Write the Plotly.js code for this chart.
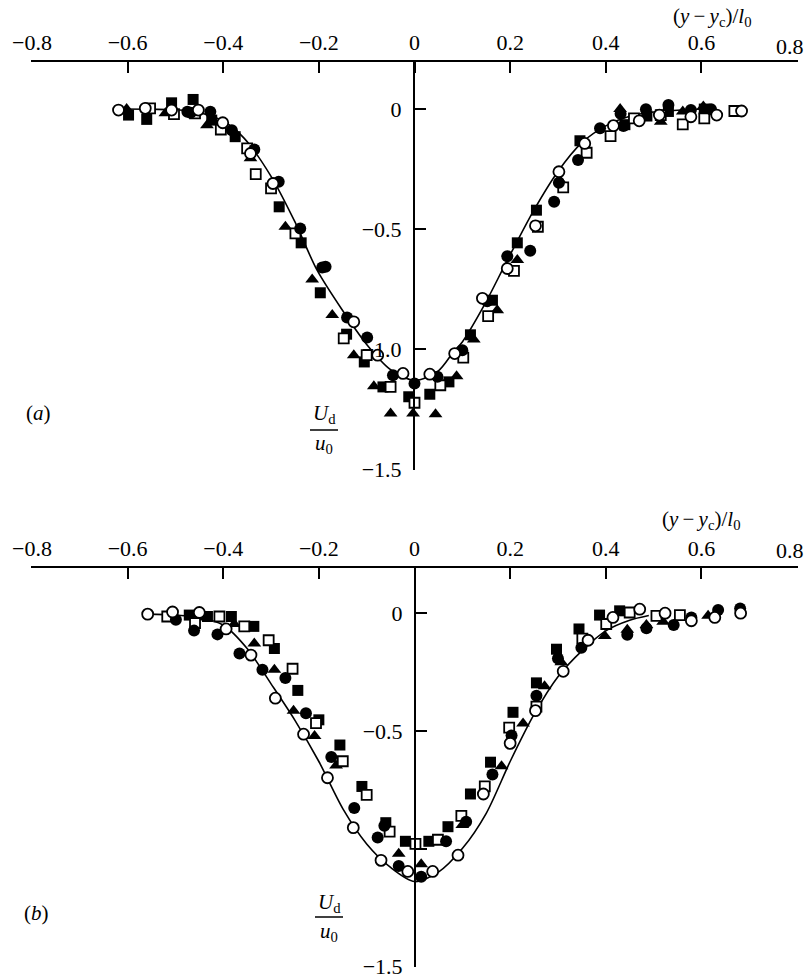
<!DOCTYPE html>
<html>
<head>
<meta charset="utf-8">
<script src="https://cdn.plot.ly/plotly-3.0.1.min.js"></script>
<style>
  html, body { margin: 0; padding: 0; background: #fff; }
  #chart { width: 808px; height: 980px; }
</style>
</head>
<body>
<div id="chart"></div>
<script>
//----------------------------------DATA (a)----------------------------------//

const aCurveX = [-0.62, -0.55, -0.5, -0.45, -0.4, -0.357, -0.3, -0.25, -0.204, -0.15, -0.1, -0.05, 0,
  0.05, 0.082, 0.1, 0.145, 0.194, 0.25, 0.3, 0.35, 0.4, 0.45, 0.5, 0.55, 0.6, 0.63];
const aCurveY = [0.0, -0.001, -0.003, -0.015, -0.05, -0.12, -0.28, -0.47, -0.67, -0.84, -0.98, -1.085, -1.13,
  -1.09, -1.01, -0.97, -0.82, -0.63, -0.42, -0.26, -0.14, -0.07, -0.03, -0.012, -0.005, 0.0, 0.0];

const aFilledCircleX = [-0.475, -0.468, -0.427, -0.382, -0.335, -0.284, -0.239, -0.193, -0.186, -0.141, -0.099,
  -0.045, 0.0, 0.048, 0.1, 0.152, 0.194, 0.242, 0.292, 0.302, 0.342, 0.388, 0.437, 0.431, 0.484, 0.531, 0.578, 0.62];
const aFilledCircleY = [-0.011, -0.015, -0.011, -0.088, -0.168, -0.303, -0.497, -0.66, -0.657, -0.868, -0.951,
  -1.108, -1.143, -1.115, -1.004, -0.80, -0.6125, -0.59, -0.386, -0.307, -0.2125, -0.08, -0.071, -0.02, -0.001, 0.017, -0.004, -0.001];

const aOpenCircleX = [-0.619, -0.563, -0.508, -0.452, -0.401, -0.343, -0.296, -0.127, -0.077, -0.024, 0.032,
  0.084, 0.142, 0.194, 0.253, 0.302, 0.356, 0.416, 0.47, 0.512, 0.578, 0.632, 0.684];
const aOpenCircleY = [-0.004, 0.003, -0.004, -0.004, -0.057, -0.185, -0.31, -0.886, -1.025, -1.101, -1.104,
  -1.018, -0.788, -0.664, -0.486, -0.261, -0.143, -0.069, -0.049, -0.025, -0.032, -0.025, -0.008];

const aFilledSquareX = [-0.598, -0.56, -0.508, -0.463, -0.424, -0.375, -0.283, -0.237, -0.197, -0.142, -0.105,
  -0.066, -0.012, 0.032, 0.072, 0.117, 0.163, 0.215, 0.255, 0.346, 0.44, 0.486, 0.531, 0.606];
const aFilledSquareY = [-0.025, -0.043, 0.026, 0.04, -0.046, -0.115, -0.407, -0.557, -0.765, -0.9375, -1.053,
  -1.157, -1.198, -1.1875, -1.136, -0.94, -0.796, -0.557, -0.421, -0.132, -0.065, -0.029, -0.01, 0.0];

const aOpenSquareX = [-0.553, -0.503, -0.459, -0.405, -0.35, -0.332, -0.3, -0.249, -0.148, -0.1, -0.05, 0.0,
  0.054, 0.102, 0.154, 0.208, 0.258, 0.311, 0.36, 0.41, 0.459, 0.515, 0.561, 0.606, 0.669];
const aOpenSquareY = [0.003, -0.021, -0.018, -0.085, -0.164, -0.271, -0.33, -0.518, -0.955, -1.025, -1.157, -1.223,
  -1.15, -1.035, -0.8625, -0.674, -0.49, -0.326, -0.182, -0.1125, -0.039, -0.025, -0.064, -0.039, -0.008];

const aTriangleX = [-0.602, -0.521, -0.434, -0.343, -0.27, -0.214, -0.172, -0.127, -0.085, -0.05, -0.003, 0.044,
  0.088, 0.124, 0.173, 0.215, 0.306, 0.43, 0.515, 0.561, 0.604];
const aTriangleY = [0.0, -0.017, -0.067, -0.205, -0.49, -0.71, -0.858, -1.025, -1.154, -1.268, -1.268, -1.271,
  -1.1125, -0.96, -0.8375, -0.629, -0.303, 0.0, -0.053, -0.01, 0.011];

//----------------------------------DATA (b)----------------------------------//

const bCurveX = [-0.56, -0.5, -0.45, -0.4, -0.35, -0.3, -0.25, -0.2, -0.15, -0.1, -0.05, 0,
  0.05, 0.1, 0.15, 0.2, 0.25, 0.3, 0.35, 0.4, 0.45, 0.49];
const bCurveY = [-0.004, -0.008, -0.018, -0.05, -0.15, -0.3, -0.455, -0.63, -0.83, -0.98, -1.08, -1.14,
  -1.1, -1.0, -0.85, -0.63, -0.43, -0.27, -0.16, -0.075, -0.03, -0.01];

const bFilledCircleX = [-0.499, -0.461, -0.412, -0.366, -0.318, -0.27, -0.227, -0.174, -0.126, -0.063, -0.077,
  -0.033, 0.014, 0.066, 0.108, 0.163, 0.203, 0.255, 0.3, 0.349, 0.445, 0.485, 0.542, 0.579, 0.635, 0.681];
const bFilledCircleY = [-0.028, -0.074, -0.09, -0.171, -0.24, -0.275, -0.425, -0.611, -0.828, -0.903, -0.953,
  -1.074, -1.12, -0.969, -0.886, -0.685, -0.52, -0.351, -0.192, -0.147, -0.092, -0.064, -0.05, -0.018, 0.014, 0.02];

const bOpenCircleX = [-0.558, -0.506, -0.45, -0.394, -0.342, -0.291, -0.232, -0.182, -0.128, -0.07, -0.014,
  0.038, 0.091, 0.144, 0.2, 0.253, 0.311, 0.363, 0.415, 0.471, 0.524, 0.579, 0.628, 0.682];
const bOpenCircleY = [-0.004, 0.005, 0.003, -0.067, -0.178, -0.361, -0.514, -0.699, -0.911, -1.05, -1.097,
  -1.097, -1.028, -0.768, -0.553, -0.414, -0.247, -0.115, -0.018, 0.017, 0.0, -0.032, -0.018, 0.0];

const bFilledSquareX = [-0.471, -0.433, -0.383, -0.336, -0.293, -0.244, -0.2, -0.156, -0.11, -0.06, -0.019,
  0.03, 0.07, 0.117, 0.159, 0.206, 0.255, 0.297, 0.344, 0.387, 0.429];
const bFilledSquareY = [-0.008, -0.014, -0.014, -0.056, -0.15, -0.328, -0.453, -0.56, -0.736, -0.89, -0.969,
  -0.969, -0.907, -0.768, -0.633, -0.421, -0.296, -0.153, -0.067, -0.008, 0.01];

const bOpenSquareX = [-0.517, -0.459, -0.408, -0.356, -0.305, -0.255, -0.206, -0.15, -0.1, -0.052, 0.002,
  0.049, 0.098, 0.147, 0.198, 0.255, 0.351, 0.401, 0.45, 0.506, 0.555];
const bOpenSquareY = [-0.014, -0.042, -0.014, -0.056, -0.115, -0.236, -0.467, -0.629, -0.772, -0.928, -0.98,
  -0.9625, -0.861, -0.736, -0.486, -0.397, -0.108, -0.046, 0.003, -0.011, -0.008];

const bTriangleX = [-0.436, -0.377, -0.335, -0.293, -0.253, -0.209, -0.164, -0.033, 0.014, 0.1, 0.182, 0.227,
  0.272, 0.307, 0.398, 0.445, 0.485, 0.52, 0.614];
const bTriangleY = [-0.018, -0.046, -0.129, -0.24, -0.414, -0.522, -0.647, -1.022, -1.067, -0.9, -0.65, -0.469,
  -0.31, -0.208, -0.097, -0.07, -0.05, -0.036, -0.011];

// the last label (0.8) is set flush with the right edge, as in the print
const xTicks = [-0.8, -0.6, -0.4, -0.2, 0, 0.2, 0.4, 0.6, 0.8];
const xTickText = ['\u22120.8', '\u22120.6', '\u22120.4', '\u22120.2', '0', '0.2', '0.4', '0.6', ''];
const xLastTickText = '0.8';
const yTicks = [0, -0.5, -1.0, -1.5];
const yTickTextA = ['0', '\u22120.5', '\u22121.0', '\u22121.5'];
const yTickTextB = ['0', '\u22120.5', '', '\u22121.5'];

//----------------------------------PLOT----------------------------------//

const W = 808, H = 980;
const SERIF = '"Liberation Serif", "DejaVu Serif", serif';
const px = p => p / W;
const py = p => 1 - p / H;

function markerTrace(xs, ys, symbol, filled, size, xa, ya) {
  return {
    type: 'scatter',
    mode: 'markers',
    x: xs,
    y: ys,
    xaxis: xa,
    yaxis: ya,
    hoverinfo: 'x+y',
    marker: {
      symbol: symbol,
      size: size,
      color: filled ? 'black' : 'white',
      line: { color: 'black', width: filled ? 0 : 1.8 }
    }
  };
}

function curveTrace(xs, ys, xa, ya) {
  return {
    type: 'scatter',
    mode: 'lines',
    x: xs,
    y: ys,
    xaxis: xa,
    yaxis: ya,
    line: { color: 'black', width: 1.6, shape: 'spline', smoothing: 0.8 },
    hoverinfo: 'skip'
  };
}

function panelTraces(p, xa, ya) {
  return [
    curveTrace(p.cx, p.cy, xa, ya),
    markerTrace(p.fsx, p.fsy, 'square', true, 11, xa, ya),
    markerTrace(p.ftx, p.fty, 'triangle-up', true, 12, xa, ya),
    markerTrace(p.osx, p.osy, 'square', false, 10, xa, ya),
    markerTrace(p.fcx, p.fcy, 'circle', true, 12, xa, ya),
    markerTrace(p.ocx, p.ocy, 'circle', false, 11, xa, ya)
  ];
}

const traces = [].concat(
  panelTraces({
    cx: aCurveX, cy: aCurveY, fcx: aFilledCircleX, fcy: aFilledCircleY, ocx: aOpenCircleX, ocy: aOpenCircleY,
    fsx: aFilledSquareX, fsy: aFilledSquareY, osx: aOpenSquareX, osy: aOpenSquareY, ftx: aTriangleX, fty: aTriangleY
  }, 'x', 'y'),
  panelTraces({
    cx: bCurveX, cy: bCurveY, fcx: bFilledCircleX, fcy: bFilledCircleY, ocx: bOpenCircleX, ocy: bOpenCircleY,
    fsx: bFilledSquareX, fsy: bFilledSquareY, osx: bOpenSquareX, osy: bOpenSquareY, ftx: bTriangleX, fty: bTriangleY
  }, 'x2', 'y2')
);

function xAxis(anchor) {
  return {
    domain: [px(31), px(798)],
    range: [-0.802, 0.802],
    anchor: anchor,
    side: 'top',
    tickvals: xTicks,
    ticktext: xTickText,
    showline: true,
    linecolor: 'black',
    linewidth: 2,
    ticks: 'inside',
    ticklen: 11,
    tickwidth: 2,
    tickcolor: 'black',
    showgrid: false,
    zeroline: false,
    tickfont: { family: SERIF, size: 22, color: 'black' },
    ticklabelstandoff: 1
  };
}

function yAxis(domain, range, pos, ticktext) {
  return {
    domain: domain,
    range: range,
    anchor: 'free',
    position: pos,
    side: 'left',
    tickvals: yTicks,
    ticktext: ticktext,
    showline: true,
    linecolor: 'black',
    linewidth: 2,
    ticks: 'inside',
    ticklen: 11,
    tickwidth: 2,
    tickcolor: 'black',
    showgrid: false,
    zeroline: false,
    tickfont: { family: SERIF, size: 22, color: 'black' },
    ticklabelstandoff: 7
  };
}

function textNote(text, x, y, size, anchor) {
  return {
    xref: 'paper', yref: 'paper',
    x: px(x), y: py(y),
    xanchor: anchor || 'center', yanchor: 'middle',
    text: text,
    showarrow: false,
    font: { family: SERIF, size: size, color: 'black' }
  };
}

const axisTitle = '(<i>y</i>\u2009\u2212\u2009<i>y</i><sub>c</sub>)/<i>l</i><sub>0</sub>';

const layout = {
  width: W,
  height: H,
  margin: { t: 0, b: 0, l: 0, r: 0 },
  paper_bgcolor: 'white',
  plot_bgcolor: 'white',
  showlegend: false,
  xaxis: xAxis('y'),
  yaxis: yAxis([py(470), py(62)], [-1.503, 0.196], px(414), yTickTextA),
  xaxis2: xAxis('y2'),
  yaxis2: yAxis([py(967), py(568)], [-1.503, 0.192], px(415), yTickTextB),
  annotations: [
    textNote(xLastTickText, 806, 46, 22, 'right'),
    textNote(xLastTickText, 806, 550, 22, 'right'),
    textNote(axisTitle, 712, 17, 21),
    textNote(axisTitle, 701, 520, 21),
    textNote('(<i>a</i>)', 38, 413, 21),
    textNote('(<i>b</i>)', 36, 913, 21),
    textNote('<i>U</i><sub>d</sub>', 324, 414, 21),
    textNote('<i>u</i><sub>0</sub>', 324, 444, 21),
    textNote('<i>U</i><sub>d</sub>', 329, 903, 21),
    textNote('<i>u</i><sub>0</sub>', 329, 932, 21)
  ],
  shapes: [
    { type: 'line', xref: 'paper', yref: 'paper', x0: px(310), x1: px(338), y0: py(430), y1: py(430),
      line: { color: 'black', width: 1.5 } },
    { type: 'line', xref: 'paper', yref: 'paper', x0: px(315), x1: px(343), y0: py(917), y1: py(917),
      line: { color: 'black', width: 1.5 } }
  ]
};

Plotly.newPlot('chart', traces, layout, { displayModeBar: false, staticPlot: true });
</script>
</body>
</html>
